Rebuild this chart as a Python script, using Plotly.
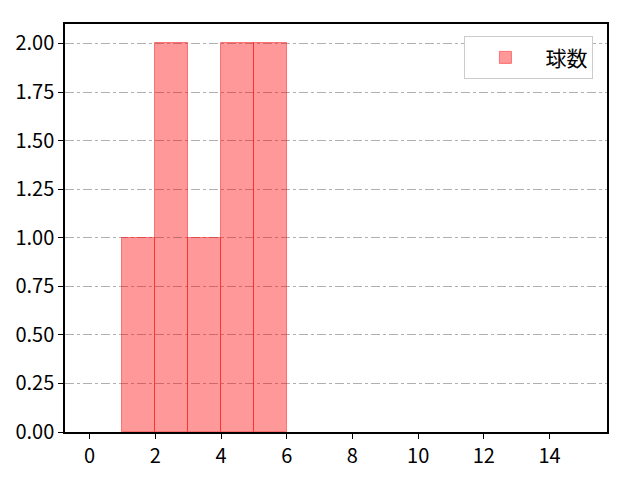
# 球数ヒストグラム
import plotly.graph_objects as go

# データ
bin_left = [1, 2, 3, 4, 5]
bin_width = 1
counts = [1, 2, 1, 2, 2]
x_ticks = [0, 2, 4, 6, 8, 10, 12, 14]
y_ticks = [0, 0.25, 0.5, 0.75, 1.0, 1.25, 1.5, 1.75, 2.0]

centers = [b + bin_width / 2 for b in bin_left]

fig = go.Figure()

fig.add_trace(go.Bar(
    x = centers,
    y = counts,
    width = bin_width,
    name = "球数",
    marker = dict(color = "rgba(255,0,0,0.4)",
                  line = dict(color = "rgba(255,0,0,0.45)", width = 1))
))

# ページの余白(8px)を考慮した配置
fig.update_layout(
    width = 640, height = 480,
    margin = dict(l = 57, r = 41, t = 16, b = 56),
    plot_bgcolor = "white",
    paper_bgcolor = "white",
    font = dict(family = "Noto Sans CJK JP", size = 20, color = "black"),
    bargap = 0,
    showlegend = True,
    legend = dict(x = 0.975, y = 0.97, xanchor = "right", yanchor = "top",
                  bordercolor = "#cccccc", borderwidth = 1,
                  font = dict(size = 21),
                  itemwidth = 70)
)

# 軸の書式
fig.update_xaxes(range = [-0.75, 15.75],
                 tickvals = x_ticks,
                 tickfont = dict(size = 20),
                 ticks = "outside", ticklen = 5, tickwidth = 1, tickcolor = "black",
                 showline = True, linewidth = 1.5, linecolor = "black", mirror = True,
                 showgrid = False, zeroline = False, automargin = False)
fig.update_yaxes(range = [0, 2.1],
                 tickvals = y_ticks,
                 tickformat = ".2f",
                 tickfont = dict(size = 20),
                 ticks = "outside", ticklen = 5, tickwidth = 1, tickcolor = "black",
                 showline = True, linewidth = 1.5, linecolor = "black", mirror = True,
                 showgrid = True, gridcolor = "#b0b0b0", gridwidth = 1, griddash = "dashdot",
                 zeroline = False, automargin = False)

fig.write_html("out.html")
